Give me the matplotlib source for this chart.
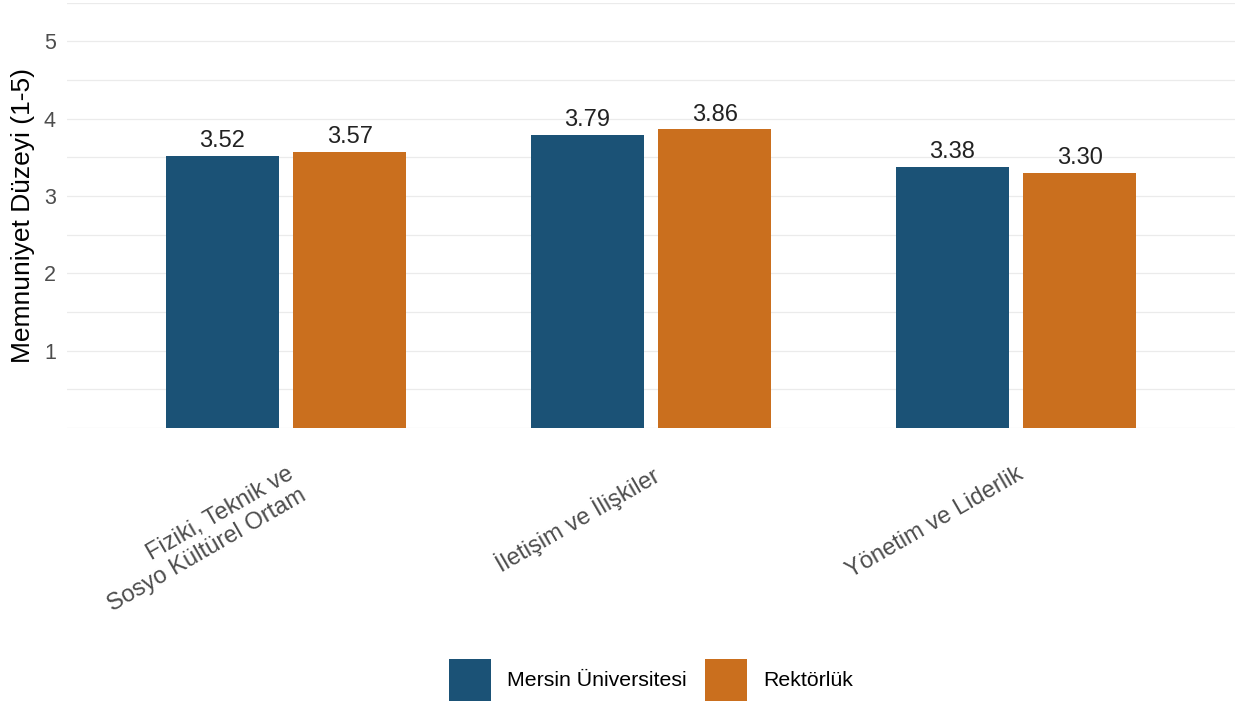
#!/usr/bin/env python3

"""
plot.py - Memnuniyet düzeyi karşılaştırma grafiği (Mersin Üniversitesi vs Rektörlük)
"""

import numpy as np
import matplotlib
matplotlib.use("Agg")
import matplotlib.pyplot as plt
from matplotlib.patches import Patch

# Data
categories = ["Fiziki, Teknik ve\nSosyo Kültürel Ortam", "İletişim ve İlişkiler", "Yönetim ve Liderlik"]
series_names = ["Mersin Üniversitesi", "Rektörlük"]
mersin_values = [3.52, 3.79, 3.38]
rektorluk_values = [3.57, 3.86, 3.30]
y_ticks = [1, 2, 3, 4, 5]

colors = ["#1B5276", "#CA6F1E"]

plt.rcParams['font.family'] = ['Liberation Sans', 'DejaVu Sans']

W, H = 1239, 704
fig = plt.figure(figsize=(W / 100, H / 100), dpi=100)
ax = fig.add_axes([67 / W, 1 - 428 / H, (1235 - 67) / W, (428 - 2.5) / H])

x = np.arange(1, len(categories) + 1)
dodge = 0.35
bar_w = 0.31

for i, (vals, name) in enumerate(zip([mersin_values, rektorluk_values], series_names)):
    xs = x + (i - 0.5) * dodge
    ax.bar(xs, vals, width=bar_w, color=colors[i], label=name, zorder=2)
    for xi, v in zip(xs, vals):
        ax.annotate(f"{v:.2f}", (xi, v), xytext=(0, 2.5), textcoords="offset points",
                    ha="center", va="bottom", fontsize=17, color="#222222")

ax.set_xlim(0.4, 3.6)
ax.set_ylim(0, 5.5)

# grid lines (major + minor)
for g in np.arange(0, 5.51, 0.5):
    ax.axhline(g, color="#EBEBEB", lw=0.9, zorder=0)

ax.set_yticks(y_ticks)
ax.set_yticklabels([str(t) for t in y_ticks], fontsize=15.5, color="#4D4D4D")
ax.set_xticks(x)
ax.set_xticklabels(categories, rotation=30, ha="right", rotation_mode="anchor",
                   fontsize=17, color="#4D4D4D")
ax.tick_params(axis="both", length=0)
ax.tick_params(axis="y", pad=8)
ax.tick_params(axis="x", pad=25)

ax.set_ylabel("Memnuniyet Düzeyi (1-5)", fontsize=19, color="black", labelpad=6.5)

for s in ax.spines.values():
    s.set_visible(False)

# legend centred under the panel
handles = [Patch(facecolor=c, label=n) for c, n in zip(colors, series_names)]
fig.legend(handles=handles, loc="center", bbox_to_anchor=(651 / W, 1 - 680 / H), ncol=2,
           frameon=False, fontsize=15.3, handlelength=2.0, handleheight=2.66,
           handletextpad=0.75, columnspacing=0.85)

fig.savefig("out.png", dpi=100)
